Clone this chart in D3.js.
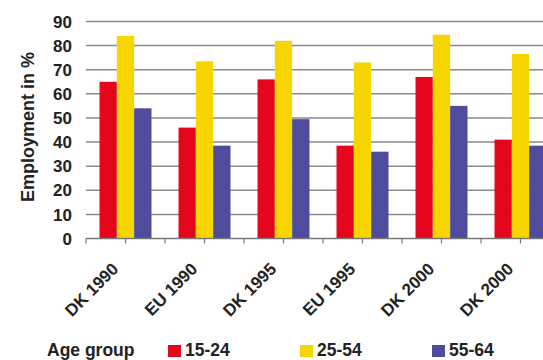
<!DOCTYPE html>
<html>
<head>
<meta charset="utf-8">
<script src="https://cdn.jsdelivr.net/npm/d3@7"></script>
<style>
  html, body { margin: 0; padding: 0; background: #fff; }
  svg { display: block; font-family: "Liberation Sans", Arial, Helvetica, sans-serif; }
</style>
</head>
<body>
<svg id="chart" width="543" height="360"></svg>
<script>
// Employment rate by age group, Denmark vs EU
const categories = ["DK 1990", "EU 1990", "DK 1995", "EU 1995", "DK 2000", "DK 2000 "];
const seriesNames = ["15-24", "25-54", "55-64"];
const values15to24 = [65, 46, 66, 38.5, 67, 41];
const values25to54 = [84, 73.5, 82, 73, 84.5, 76.5];
const values55to64 = [54, 38.5, 49.5, 36, 55, 38.5];
const yTicks = [0, 10, 20, 30, 40, 50, 60, 70, 80, 90];
const colors = ["#e3061c", "#f7d600", "#4f4b9d"];

const seriesValues = [values15to24, values25to54, values55to64];
const rows = categories.map((c, i) => ({
  category: c,
  values: seriesNames.map((s, j) => ({ series: s, value: seriesValues[j][i] }))
}));

const svg = d3.select("#chart");
const left = 86, band = 79;
const x0 = d3.scaleBand().domain(categories).range([left, left + band * categories.length]).padding(0);
const x1 = d3.scaleBand().domain(seriesNames).range([0, x0.bandwidth()]).paddingInner(0).paddingOuter(0.78);
const y = d3.scaleLinear().domain([0, 90]).range([238.5, 21.5]);
const color = d3.scaleOrdinal().domain(seriesNames).range(colors);

// horizontal gridlines
svg.append("g")
  .selectAll("line")
  .data(yTicks.filter(d => d > 0))
  .join("line")
  .attr("x1", left).attr("x2", 543)
  .attr("y1", d => y(d)).attr("y2", d => y(d))
  .attr("stroke", "#8a8a8a").attr("stroke-width", 1.5);

// y tick labels
svg.append("g")
  .selectAll("text")
  .data(yTicks)
  .join("text")
  .attr("x", 72).attr("y", d => y(d))
  .attr("dy", "0.36em")
  .attr("text-anchor", "end")
  .attr("font-size", 17).attr("font-weight", "bold").attr("fill", "#222")
  .text(d => d);

// y axis title
svg.append("text")
  .attr("transform", `translate(34,${(y(0) + y(90)) / 2 - 3}) rotate(-90)`)
  .attr("text-anchor", "middle")
  .attr("font-size", 18).attr("font-weight", "bold").attr("fill", "#222")
  .text("Employment in %");

// bars
svg.append("g")
  .selectAll("g")
  .data(rows)
  .join("g")
  .attr("transform", d => `translate(${x0(d.category)},0)`)
  .selectAll("rect")
  .data(d => d.values)
  .join("rect")
  .attr("x", d => x1(d.series))
  .attr("width", x1.bandwidth())
  .attr("y", d => y(d.value))
  .attr("height", d => y(0) - y(d.value))
  .attr("fill", d => color(d.series));

// x axis: ticks at category centres and boundaries
const xAxis = svg.append("g").attr("transform", `translate(0,${y(0)})`);
xAxis.append("line")
  .attr("x1", left).attr("x2", 543)
  .attr("stroke", "#777").attr("stroke-width", 1.5);
const tickPos = categories.flatMap(c => [x0(c), x0(c) + x0.bandwidth() / 2]);
xAxis.selectAll("line.tick")
  .data(tickPos)
  .join("line")
  .attr("class", "tick")
  .attr("x1", d => d).attr("x2", d => d)
  .attr("y1", 0).attr("y2", 5)
  .attr("stroke", "#777").attr("stroke-width", 1.2);

// rotated category labels
svg.append("g")
  .selectAll("text")
  .data(categories)
  .join("text")
  .attr("transform", d => `translate(${x0(d) + x0.bandwidth() / 2 - 6},270) rotate(-45)`)
  .attr("text-anchor", "end")
  .attr("font-size", 17).attr("font-weight", "bold").attr("fill", "#222")
  .text(d => d.trim());

// legend
const legend = svg.append("g");
legend.append("text")
  .attr("x", 47).attr("y", 355.5)
  .attr("font-size", 17.5).attr("font-weight", "bold").attr("fill", "#222")
  .text("Age group");
const legendX = [168, 300, 432];
const items = legend.selectAll("g.item")
  .data(seriesNames)
  .join("g")
  .attr("class", "item")
  .attr("transform", (d, i) => `translate(${legendX[i]},0)`);
items.append("rect")
  .attr("x", 0).attr("y", 345).attr("width", 13).attr("height", 12)
  .attr("fill", d => color(d));
items.append("text")
  .attr("x", 17).attr("y", 355.5)
  .attr("font-size", 17.5).attr("font-weight", "bold").attr("fill", "#222")
  .text(d => d);
</script>
</body>
</html>
